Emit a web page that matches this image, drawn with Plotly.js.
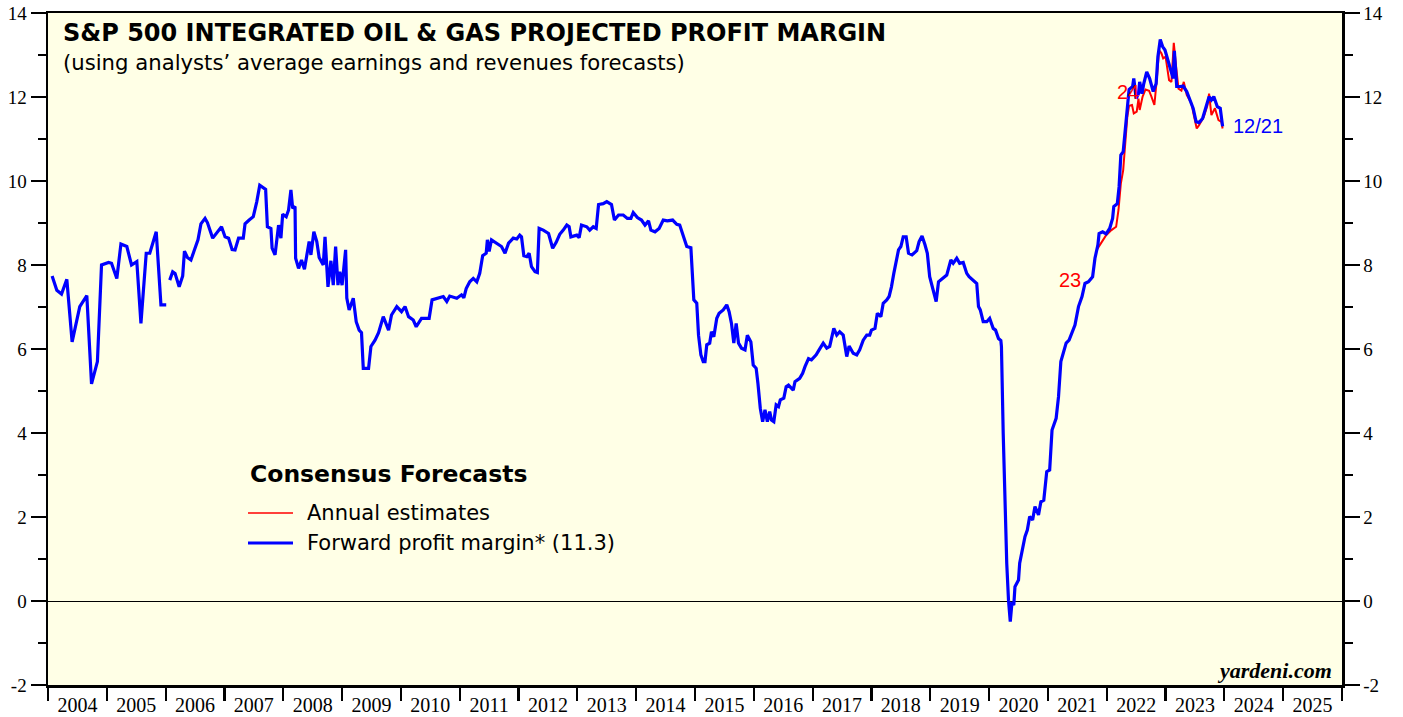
<!DOCTYPE html>
<html>
<head>
<meta charset="utf-8">
<script src="https://cdn.plot.ly/plotly-3.0.1.min.js"></script>
<style>html,body{margin:0;padding:0;background:#fff;}#chart{width:1403px;height:717px;}</style>
</head>
<body>
<div id="chart"></div>
<script>
// Forward profit margin (blue), decimal years
const fwdDates = [
2004.07,2004.15,2004.23,2004.32,2004.41,2004.54,2004.66,2004.74,2004.84,2004.91,
2005.03,2005.08,2005.17,2005.24,2005.34,2005.42,2005.51,2005.58,2005.67,2005.73,2005.84,2005.92,2006.01,2006.04,
2006.07,2006.12,2006.16,2006.23,2006.29,2006.32,2006.37,2006.43,2006.48,2006.55,2006.60,2006.67,2006.71,2006.80,2006.95,
2007.01,2007.07,2007.13,2007.18,2007.24,2007.32,2007.35,2007.42,2007.49,2007.55,2007.60,2007.70,2007.73,2007.79,2007.81,2007.86,2007.92,2007.96,2007.99,
2008.05,2008.09,2008.13,2008.16,2008.20,2008.21,2008.26,2008.31,2008.36,2008.44,2008.47,2008.52,2008.57,2008.61,2008.68,2008.71,2008.76,2008.81,2008.85,2008.89,2008.93,2008.96,
2009.00,2009.06,2009.08,2009.12,2009.19,2009.24,2009.29,2009.33,2009.36,2009.45,2009.49,2009.53,2009.56,2009.62,2009.70,2009.79,2009.84,2009.93,
2010.01,2010.07,2010.13,2010.21,2010.26,2010.35,2010.44,2010.48,2010.53,2010.61,2010.72,2010.78,2010.83,2010.95,
2011.03,2011.07,2011.11,2011.17,2011.23,2011.29,2011.34,2011.39,2011.45,2011.47,2011.50,2011.54,2011.63,2011.71,2011.77,2011.83,2011.91,2011.97,
2012.02,2012.05,2012.09,2012.14,2012.18,2012.22,2012.28,2012.32,2012.35,2012.42,2012.51,2012.58,2012.64,2012.70,2012.76,2012.82,2012.86,2012.89,2012.99,
2013.03,2013.07,2013.16,2013.21,2013.27,2013.32,2013.36,2013.44,2013.50,2013.58,2013.63,2013.70,2013.78,2013.85,2013.91,2013.95,
2014.02,2014.09,2014.15,2014.21,2014.25,2014.32,2014.39,2014.46,2014.53,2014.62,2014.69,2014.74,2014.80,2014.86,2014.93,2014.98,
2015.03,2015.06,2015.10,2015.14,2015.17,2015.20,2015.25,2015.28,2015.32,2015.37,2015.41,2015.48,2015.54,2015.58,2015.62,2015.66,2015.70,2015.74,2015.79,2015.85,2015.89,2015.95,2015.99,
2016.04,2016.07,2016.11,2016.15,2016.19,2016.23,2016.27,2016.30,2016.34,2016.38,2016.42,2016.45,2016.51,2016.55,2016.59,2016.67,2016.70,2016.78,2016.83,2016.87,2016.93,2016.98,
2017.06,2017.11,2017.18,2017.24,2017.29,2017.36,2017.41,2017.46,2017.52,2017.58,2017.62,2017.69,2017.75,2017.80,2017.86,2017.92,2017.97,
2018.00,2018.06,2018.10,2018.16,2018.20,2018.26,2018.30,2018.34,2018.38,2018.42,2018.46,2018.50,2018.54,2018.59,2018.63,2018.69,2018.77,2018.81,2018.86,2018.91,2018.95,2018.99,
2019.04,2019.10,2019.14,2019.22,2019.28,2019.35,2019.39,2019.45,2019.50,2019.56,2019.62,2019.66,2019.72,2019.79,2019.82,2019.85,2019.90,2019.96,
2020.01,2020.07,2020.11,2020.16,2020.20,2020.21,2020.24,2020.27,2020.30,2020.33,2020.36,2020.39,2020.42,2020.44,2020.50,2020.52,2020.57,2020.61,2020.65,2020.69,2020.74,2020.78,2020.84,2020.88,2020.93,2020.98,
2021.03,2021.07,2021.14,2021.18,2021.22,2021.26,2021.31,2021.36,2021.40,2021.46,2021.52,2021.58,2021.63,2021.69,2021.76,2021.80,2021.85,2021.87,2021.93,2021.99,
2022.05,2022.10,2022.12,2022.18,2022.21,2022.24,2022.28,2022.31,2022.34,2022.38,2022.44,2022.46,2022.50,2022.54,2022.56,2022.60,2022.63,2022.68,2022.73,2022.79,2022.84,2022.87,2022.91,2022.95,2022.99,
2023.05,2023.09,2023.13,2023.15,2023.19,2023.25,2023.30,2023.36,2023.42,2023.47,2023.52,2023.57,2023.63,2023.70,2023.74,2023.78,2023.82,2023.88,2023.93,2023.97
];
const fwdMargin = [
7.74,7.40,7.31,7.66,6.17,7.01,7.27,5.17,5.70,8.00,
8.06,8.04,7.68,8.50,8.44,8.00,8.08,6.61,8.28,8.28,8.79,7.05,7.05,null,
7.64,7.84,7.80,7.48,7.74,8.33,8.18,8.12,8.32,8.60,8.98,9.11,9.01,8.64,8.91,
8.67,8.64,8.37,8.36,8.64,8.64,8.98,9.07,9.15,9.51,9.90,9.80,8.91,8.87,8.40,8.24,8.95,8.64,9.21,
9.15,9.31,9.79,9.35,9.39,8.16,7.92,8.12,7.90,8.56,8.24,8.79,8.56,8.18,8.00,8.67,7.48,8.10,7.52,8.44,7.52,7.84,
7.52,8.36,7.21,6.93,7.21,6.65,6.45,6.39,5.54,5.54,6.06,6.14,6.21,6.39,6.77,6.45,6.81,7.01,
6.89,7.01,6.77,6.69,6.53,6.73,6.73,6.73,7.17,7.21,7.25,7.13,7.26,7.21,
7.29,7.22,7.44,7.60,7.68,7.60,7.80,8.22,8.28,8.60,8.32,8.60,8.52,8.44,8.28,8.52,8.64,8.62,
8.71,8.67,8.22,8.20,8.28,7.96,7.84,7.82,8.87,8.83,8.75,8.40,8.54,8.73,8.83,8.95,8.91,8.67,8.71,
8.65,8.95,8.91,8.83,8.91,8.87,9.44,9.46,9.51,9.44,9.07,9.19,9.19,9.11,9.11,9.25,
9.13,9.07,8.95,9.05,8.83,8.79,8.87,9.07,9.05,9.07,8.97,8.95,8.71,8.44,8.41,7.17,
7.09,6.33,5.86,5.70,5.70,6.10,6.14,6.41,6.29,6.73,6.85,6.93,7.05,6.89,6.61,6.14,6.61,6.14,6.02,5.98,6.33,6.17,5.62,
5.54,5.18,4.59,4.27,4.55,4.27,4.51,4.31,4.27,4.67,4.63,4.79,4.83,5.10,5.14,5.02,5.22,5.30,5.42,5.58,5.77,5.74,
5.86,5.98,6.14,6.02,6.06,6.49,6.33,6.41,6.33,5.82,6.07,5.90,5.86,5.98,6.21,6.33,6.33,
6.45,6.49,6.85,6.77,7.09,7.17,7.25,7.48,7.80,8.04,8.36,8.44,8.67,8.67,8.28,8.24,8.34,8.56,8.69,8.48,8.28,7.72,
7.48,7.13,7.60,7.68,7.76,8.12,8.04,8.16,8.04,8.06,7.80,7.72,7.64,7.56,7.01,6.93,6.65,6.65,
6.73,6.49,6.45,6.25,6.20,6.06,3.99,2.01,0.90,0.02,-0.49,-0.02,-0.10,0.34,0.50,0.90,1.29,1.53,1.69,2.01,1.93,2.25,2.05,2.36,2.40,3.08,
3.12,4.07,4.35,4.86,5.70,5.90,6.14,6.21,6.37,6.57,7.01,7.25,7.56,7.60,7.72,8.16,8.48,8.75,8.79,8.74,
8.87,9.11,9.39,9.46,9.86,10.62,10.70,11.21,11.69,12.18,12.25,12.44,11.96,12.08,12.36,12.08,12.32,12.60,12.44,12.13,12.32,12.96,13.37,13.20,13.12,
12.80,12.64,12.44,13.10,12.25,12.25,12.26,12.13,11.93,11.73,11.41,11.39,11.49,11.81,12.01,11.93,12.01,11.77,11.73,11.30
];
// Annual estimates (red)
const est23Dates = [2021.83,2021.91,2021.99,2022.08,2022.16,2022.20,2022.24,2022.28,2022.31,2022.35];
const est23 = [8.36,8.52,8.71,8.83,8.91,9.31,9.94,10.26,10.82,11.53];
const est24Dates = [2022.35,2022.38,2022.43,2022.46,2022.51,2022.54,2022.56,2022.61,2022.66,2022.72,2022.76,2022.81,2022.85,2022.89,2022.93,2022.96,2023.00,
2023.06,2023.10,2023.14,2023.18,2023.22,2023.27,2023.31,2023.36,2023.44,2023.48,2023.53,2023.57,2023.61,2023.65,2023.71,2023.74,2023.78,2023.84,2023.90,2023.95,2023.97];
const est24 = [11.53,11.79,11.81,11.61,11.65,11.96,11.69,12.01,12.18,12.15,12.01,11.81,12.40,13.12,13.04,12.92,12.96,
12.40,12.36,13.29,12.72,12.20,12.15,12.36,12.05,11.85,11.57,11.25,11.33,11.45,11.53,11.79,12.08,11.57,11.73,11.45,11.41,11.25];

const years = [2004,2005,2006,2007,2008,2009,2010,2011,2012,2013,2014,2015,2016,2017,2018,2019,2020,2021,2022,2023,2024,2025];
const yearLabels = years.map(String);
const yTicks = [-2,0,2,4,6,8,10,12,14];

const serif = 'Liberation Serif, Times New Roman, serif';
const sans = 'Liberation Sans, Arial, sans-serif';
const wide = 'DejaVu Sans, Verdana, sans-serif';

const traces = [
  {x: est23Dates, y: est23, mode: 'lines', line: {color: '#FF0000', width: 2}, hoverinfo: 'skip', showlegend: false},
  {x: est24Dates, y: est24, mode: 'lines', line: {color: '#FF0000', width: 2}, hoverinfo: 'skip', showlegend: false},
  {x: fwdDates, y: fwdMargin, mode: 'lines', line: {color: '#0000FF', width: 3.2}, connectgaps: false, hoverinfo: 'skip', showlegend: false},
  {x: fwdDates, y: fwdMargin, yaxis: 'y2', mode: 'lines', line: {color: 'rgba(0,0,0,0)', width: 0}, hoverinfo: 'skip', showlegend: false}
];

const yBase = {
  range: [-2, 14], tickvals: yTicks, ticktext: yTicks.map(String),
  ticks: 'outside', ticklen: 15, tickwidth: 1.2, tickcolor: '#000',
  minor: {dtick: 1, tick0: 0, ticks: 'outside', ticklen: 8, tickwidth: 1.2, tickcolor: '#000'},
  showgrid: false, showline: true, linecolor: '#000', linewidth: 2.5,
  tickfont: {family: serif, size: 19, color: '#000'}, fixedrange: true
};

const layout = {
  width: 1403, height: 717,
  margin: {l: 48, r: 61, t: 13, b: 32, pad: 0},
  paper_bgcolor: '#FFFFFF', plot_bgcolor: '#FFFFE6',
  showlegend: false,
  xaxis: {
    range: [2004, 2026], tickmode: 'array', tickvals: years.map(y => y + 0.5), ticktext: yearLabels,
    ticks: '', ticklen: 0,
    minor: {tickmode: 'array', tickvals: years.concat([2026]), ticks: 'outside', ticklen: 13, tickwidth: 2.2, tickcolor: '#000'},
    showgrid: false, showline: true, mirror: true, linecolor: '#000', linewidth: 2.5, zeroline: false,
    tickfont: {family: serif, size: 20, color: '#000'}, fixedrange: true
  },
  yaxis: Object.assign({}, yBase, {zeroline: true, zerolinecolor: '#000', zerolinewidth: 1}),
  yaxis2: Object.assign({}, yBase, {overlaying: 'y', side: 'right', zeroline: false}),
  shapes: [
    {type: 'line', xref: 'paper', yref: 'paper', x0: (248-48)/1294, x1: (293-48)/1294, y0: (685-513)/672, y1: (685-513)/672, line: {color: '#FF0000', width: 1.6}},
    {type: 'line', xref: 'paper', yref: 'paper', x0: (248-48)/1294, x1: (293-48)/1294, y0: (685-543)/672, y1: (685-543)/672, line: {color: '#0000FF', width: 3.2}}
  ],
  annotations: [
    {xref: 'paper', yref: 'paper', x: (61-48)/1294, y: (685-33)/672, xanchor: 'left', yanchor: 'middle', showarrow: false,
     text: '<b>S&amp;P 500 INTEGRATED OIL &amp; GAS PROJECTED PROFIT MARGIN</b>', font: {family: wide, size: 24, color: '#000'}},
    {xref: 'paper', yref: 'paper', x: (61-48)/1294, y: (685-63)/672, xanchor: 'left', yanchor: 'middle', showarrow: false,
     text: '(using analysts\u2019 average earnings and revenues forecasts)', font: {family: wide, size: 21.2, color: '#000'}},
    {xref: 'paper', yref: 'paper', x: (248-48)/1294, y: (685-474)/672, xanchor: 'left', yanchor: 'middle', showarrow: false,
     text: '<b>Consensus Forecasts</b>', font: {family: wide, size: 23.5, color: '#000'}},
    {xref: 'paper', yref: 'paper', x: (305-48)/1294, y: (685-513)/672, xanchor: 'left', yanchor: 'middle', showarrow: false,
     text: 'Annual estimates', font: {family: wide, size: 21, color: '#000'}},
    {xref: 'paper', yref: 'paper', x: (305-48)/1294, y: (685-543)/672, xanchor: 'left', yanchor: 'middle', showarrow: false,
     text: 'Forward profit margin* (11.3)', font: {family: wide, size: 21, color: '#000'}},
    {xref: 'x', yref: 'y', x: 2021.375, y: 7.64, xanchor: 'center', yanchor: 'middle', showarrow: false,
     text: '23', font: {family: sans, size: 20, color: '#FF0000'}},
    {xref: 'x', yref: 'y', x: 2022.36, y: 12.12, xanchor: 'center', yanchor: 'middle', showarrow: false,
     text: '24', font: {family: sans, size: 20, color: '#FF0000'}},
    {xref: 'x', yref: 'y', x: 2024.12, y: 11.31, xanchor: 'left', yanchor: 'middle', showarrow: false,
     text: '12/21', font: {family: sans, size: 20, color: '#0000FF'}},
    {xref: 'paper', yref: 'paper', x: (1334-48)/1294, y: (685-670)/672, xanchor: 'right', yanchor: 'middle', showarrow: false,
     text: '<b><i>yardeni.com</i></b>', font: {family: serif, size: 22, color: '#000'}}
  ]
};

Plotly.newPlot('chart', traces, layout, {staticPlot: true, displayModeBar: false});
</script>
</body>
</html>
